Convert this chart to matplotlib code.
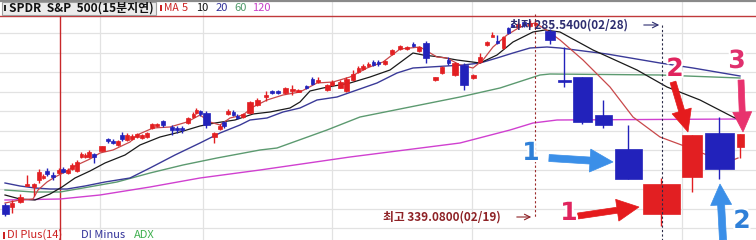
import matplotlib
matplotlib.use("Agg")
import matplotlib.pyplot as plt
from matplotlib.patches import Rectangle, FancyArrow
import matplotlib.patheffects as pe

# ---------------- data (chart units: x = time position, y = inverted price level) ----------------
cx = [5, 12, 20, 27, 34, 39, 43, 47, 53, 59, 63, 68, 72, 77, 81, 85, 89, 94, 102, 108,
      113, 118, 122, 127, 132, 137, 142, 147, 152, 157, 163, 172, 177, 182, 188, 193, 196, 200, 206, 214,
      220, 224, 228, 233, 237, 243, 250, 257, 266, 272, 278, 285, 292, 298, 306, 312, 318, 327, 332, 340,
      346, 353, 358, 363, 368, 373, 378, 385, 392, 400, 407, 413, 419, 426, 435, 442, 448, 455, 464, 473,
      480, 487, 492, 497, 503, 508, 512, 518, 524, 530, 535, 550,
      564, 582, 603, 628, 661, 692, 719, 740]
op = [205, 207, 202, 186, 187, 180, 178, 171, 175, 173, 169, 173, 169, 171, 157, 157, 157, 154, 151, 139,
      141, 145, 135, 140, 139, 137, 138, 137, 128, 126, 121, 127, 128, 128, 123, 117, 113, 111, 113, 137,
      129, 122, 114, 112, 116, 117, 113, 105, 97, 91, 91, 93, 91, 91, 86, 79, 82, 90, 85, 88,
      91, 80, 72, 69, 66, 62, 62, 64, 54, 49, 49, 44, 51, 43, 80, 73, 60, 75, 65, 78,
      62, 45, 36, 41, 48, 28, 25, 27, 22, 26, 25, 31,
      80, 77, 115, 149, 214, 177, 133, 147]
cl = [214, 203, 197, 184, 184, 172, 176, 174, 177, 170, 172, 170, 165, 162, 154, 155, 152, 157, 146, 141,
      143, 141, 139, 135, 136, 134, 135, 133, 124, 124, 125, 130, 130, 129, 118, 114, 110, 114, 125, 133,
      126, 126, 111, 115, 118, 114, 102, 100, 95, 93, 93, 88, 89, 90, 88, 84, 80, 85, 82, 82,
      79, 74, 68, 66, 64, 65, 64, 61, 50, 46, 47, 46, 47, 58, 77, 67, 63, 63, 85, 75,
      57, 42, 35, 43, 37, 33, 26, 24, 25, 23, 23, 40,
      82, 122, 125, 179, 184, 135, 169, 134]
hi = [203, 200, 194, 175, 183, 169, 174, 168, 172, 168, 167, 168, 163, 160, 152, 153, 150, 153, 146, 138,
      139, 140, 132, 133, 134, 133, 134, 132, 123, 123, 120, 125, 126, 126, 117, 112, 108, 110, 111, 132,
      124, 121, 109, 110, 114, 113, 101, 98, 91, 90, 90, 87, 85, 89, 85, 77, 77, 84, 80, 80,
      77, 70, 66, 64, 62, 60, 60, 60, 49, 45, 46, 42, 46, 41, 77, 66, 57, 62, 63, 74,
      53, 41, 32, 35, 36, 27, 23, 22, 21, 20, 20, 29,
      47, 77, 100, 125, 178, 135, 117, 134]
lo = [216, 213, 203, 186, 196, 183, 179, 176, 180, 174, 173, 174, 170, 172, 158, 158, 158, 163, 151, 143,
      144, 146, 141, 141, 140, 138, 139, 138, 129, 127, 127, 135, 133, 133, 124, 118, 114, 116, 128, 143,
      130, 128, 115, 116, 119, 118, 114, 106, 101, 94, 94, 94, 95, 92, 89, 85, 83, 91, 86, 88,
      92, 81, 73, 70, 67, 66, 66, 65, 55, 50, 50, 47, 52, 63, 81, 74, 65, 76, 90, 79,
      63, 46, 36, 44, 49, 34, 27, 28, 27, 27, 28, 44,
      87, 124, 128, 179, 226, 192, 179, 158]

ma5_x = [5, 20, 33, 38, 47, 55, 63, 77, 90, 100, 113, 130, 137, 153, 170, 187, 200, 210, 220, 230,
         243, 253, 267, 283, 300, 317, 333, 350, 367, 383, 400, 420, 437, 447, 460, 473, 483, 493, 507, 520,
         535, 545, 560, 583, 610, 633, 660, 687, 707, 733, 738]
ma5_y = [203, 200, 199, 190, 182, 177, 173, 165, 159, 153, 150, 142, 135, 128, 127, 122, 115, 122, 125, 118,
         115, 107, 100, 95, 92, 83, 82, 77, 68, 62, 49, 47, 57, 58, 65, 68, 60, 47, 35, 27,
         23, 29, 40, 60, 87, 117, 137, 147, 155, 160, 158]
ma10_x = [5, 20, 35, 50, 62, 75, 90, 105, 125, 140, 160, 180, 200, 215, 235, 253, 270, 290, 300, 310,
          323, 350, 370, 390, 413, 423, 440, 457, 480, 497, 513, 533, 545, 560, 593, 637, 667, 700, 733, 742]
ma10_y = [195, 199, 200, 194, 187, 178, 171, 163, 155, 145, 137, 132, 126, 123, 120, 114, 112, 108, 102, 91,
          88, 83, 77, 70, 53, 55, 57, 60, 63, 55, 42, 32, 30, 32, 50, 70, 87, 100, 117, 121]
ma20_x = [5, 20, 35, 50, 67, 85, 105, 130, 150, 175, 200, 220, 240, 250, 267, 283, 300, 317, 337, 357,
          377, 397, 413, 430, 463, 480, 497, 513, 530, 547, 560, 607, 660, 693, 740]
ma20_y = [183, 186, 188, 189, 189, 186, 182, 178, 168, 155, 143, 133, 125, 120, 118, 112, 108, 100, 97, 90,
          83, 73, 68, 67, 65, 63, 58, 53, 48, 47, 48, 54, 63, 68, 76]
ma60_x = [5, 33, 60, 83, 117, 150, 183, 217, 260, 277, 327, 360, 410, 460, 500, 540, 550, 660, 740]
ma60_y = [190, 192, 192, 188, 182, 173, 165, 158, 150, 148, 130, 117, 107, 97, 88, 75, 74, 75, 78]
ma120_x = [5, 60, 100, 150, 200, 260, 350, 460, 510, 533, 557, 740]
ma120_y = [200, 199, 195, 187, 178, 170, 157, 143, 130, 123, 120, 119]

ma_labels = ["5", "10", "20", "60", "120"]

# ---------------- styles ----------------
cw = [7, 4, 5, 4, 4, 4, 3, 4, 4, 4, 4, 4, 4, 4, 3, 3, 4, 4, 6, 4,
      4, 4, 4, 4, 4, 4, 4, 4, 4, 4, 4, 4, 4, 4, 4, 3, 3, 3, 7, 5,
      4, 4, 4, 3, 3, 4, 6, 5, 4, 4, 4, 5, 5, 5, 3, 3, 4, 5, 4, 5,
      5, 4, 3, 4, 3, 3, 3, 4, 4, 4, 4, 3, 4, 6, 5, 4, 3, 6, 8, 5,
      4, 4, 3, 3, 3, 3, 3, 4, 4, 4, 3, 10,
      13, 19, 17, 27, 37, 20, 29, 7]
RED = "#e21f22"
BLUE = "#2222bb"
GRID = "#e2e2e2"

fig = plt.figure(figsize=(7.56, 2.40), dpi=100)
ax = fig.add_axes([0, 0, 1, 1])
ax.set_xlim(0, 756)
ax.set_ylim(240, 0)
ax.axis("off")
fig.patch.set_facecolor("white")

KR = ["Noto Sans CJK KR", "DejaVu Sans"]

# grid
for gy in [33, 52.5, 72, 91.5, 111, 130.5, 150, 169.5, 189, 208.5, 228]:
    ax.axhline(gy, color=GRID, lw=0.9, zorder=0)
for gx in [100, 203, 332, 472, 682]:
    ax.axvline(gx, color=GRID, lw=0.9, zorder=0)

# frame lines
ax.axhline(0.8, color="#8a8a8a", lw=1.6, zorder=1)
ax.axhline(16, color="#c0393b", lw=1.0, zorder=1)
ax.plot([60, 60], [14, 240], color="#c8282a", lw=1.0, zorder=1)

# moving averages
ax.plot(ma120_x, ma120_y, color="#d040d0", lw=1.0, zorder=2)
ax.plot(ma60_x, ma60_y, color="#5c9a70", lw=1.0, zorder=2)
ax.plot(ma20_x, ma20_y, color="#3a3a98", lw=1.0, zorder=2)
ax.plot(ma10_x, ma10_y, color="#1a1a1a", lw=0.9, zorder=2)
ax.plot(ma5_x, ma5_y, color="#c8484a", lw=0.9, zorder=2)

# candles
for x, o, c, h, l, w in zip(cx, op, cl, hi, lo, cw):
    col = RED if c < o else BLUE
    ax.plot([x, x], [h, l], color=col, lw=1.0, zorder=3, solid_capstyle="butt")
    top = min(o, c)
    ht = max(abs(o - c), 1.5)
    ax.add_patch(Rectangle((x - w / 2, top), w, ht, facecolor=col, edgecolor=col, lw=0.5, zorder=4))

# dashed markers
ax.plot([535, 535], [14, 218], color="#9a2a2a", lw=0.8, ls=(0, (2, 2)), zorder=5)
ax.plot([662, 662], [25, 240], color="#2a2a48", lw=0.8, ls=(0, (2, 2)), zorder=5)

ax.text(510, 25, "최저 285.5400(02/28)", color="#2d2d70", fontsize=8.5, fontweight="bold",
        family=KR, va="center", ha="left", zorder=6)
ax.annotate("", xy=(662, 25), xytext=(641, 25),
            arrowprops=dict(arrowstyle="->", color="#2d2d70", lw=0.8), zorder=6)
ax.text(383, 217, "최고 339.0800(02/19)", color="#8e2226", fontsize=8.5, fontweight="bold",
        family=KR, va="center", ha="left", zorder=6)
ax.annotate("", xy=(534, 217), xytext=(514, 217),
            arrowprops=dict(arrowstyle="->", color="#8e2226", lw=0.8), zorder=6)

# header
ax.add_patch(Rectangle((2, 1.5), 154, 13, facecolor="#ececec", edgecolor="#a0a0a0", lw=0.8, zorder=6))
ax.add_patch(Rectangle((4, 5), 2, 6, facecolor="#222222", edgecolor="none", zorder=7))
ax.text(9, 8.3, "SPDR  S&P  500(15분지연)", color="#111111", fontsize=8.6, fontweight="bold",
        family=KR, va="center", ha="left", zorder=7)
ax.add_patch(Rectangle((160, 5), 2, 6, facecolor="#cc2222", edgecolor="none", zorder=7))
ax.text(164, 8.3, "MA", color="#cc2222", fontsize=7.5, family=KR, va="center", ha="left", zorder=7)
ma_cols = ["#cc2222", "#111111", "#33339a", "#4f9a6a", "#c840c8"]
ma_pos = [182, 196, 216, 234, 252]
for lab, col, px in zip(ma_labels, ma_cols, ma_pos):
    ax.text(px, 8.3, lab, color=col, fontsize=8, family=KR, va="center", ha="left", zorder=7)

# bottom sub-panel label
ax.add_patch(Rectangle((3, 232), 2, 7, facecolor="#cc2222", edgecolor="none", zorder=7))
ax.text(7, 239.5, "DI Plus(14)", color="#cc2222", fontsize=8, family=KR, va="bottom", ha="left", zorder=7)
ax.text(81, 239.5, "DI Minus", color="#33339a", fontsize=8, family=KR, va="bottom", ha="left", zorder=7)
ax.text(134, 239.5, "ADX", color="#3fb04f", fontsize=8, family=KR, va="bottom", ha="left", zorder=7)

# annotation arrows
def arrow(x0, y0, x1, y1, col, tw=6, hw=20, hl=18):
    a = FancyArrow(x0, y0, x1 - x0, y1 - y0, width=tw, head_width=hw, head_length=hl,
                   length_includes_head=True, facecolor=col, edgecolor=col, lw=0.5, zorder=8)
    ax.add_patch(a)

arrow(549, 158, 613, 162, "#3b8fe8", tw=7, hw=23, hl=23)
arrow(578, 216, 639, 207, "#e51b1d", tw=6, hw=22, hl=22)
arrow(673, 82, 688, 132, "#e51b1d", tw=6, hw=20, hl=22)
arrow(723, 240, 720, 184, "#3b8fe8", tw=7, hw=21, hl=21)
arrow(741, 80, 743, 132, "#e8326e", tw=6, hw=19, hl=20)

fx = [pe.withStroke(linewidth=3, foreground="white")]
num = dict(fontsize=18, fontweight="bold", family="DejaVu Sans", va="center", ha="center",
           zorder=9, path_effects=fx)
ax.text(531, 153, "1", color="#2f80d8", **num)
ax.text(569, 213, "1", color="#e0245e", **num)
ax.text(675, 69, "2", color="#e0245e", **num)
ax.text(742, 221, "2", color="#2f80d8", **num)
ax.text(737, 61, "3", color="#e0306e", **num)

fig.savefig("out.png", dpi=100, facecolor="white")
